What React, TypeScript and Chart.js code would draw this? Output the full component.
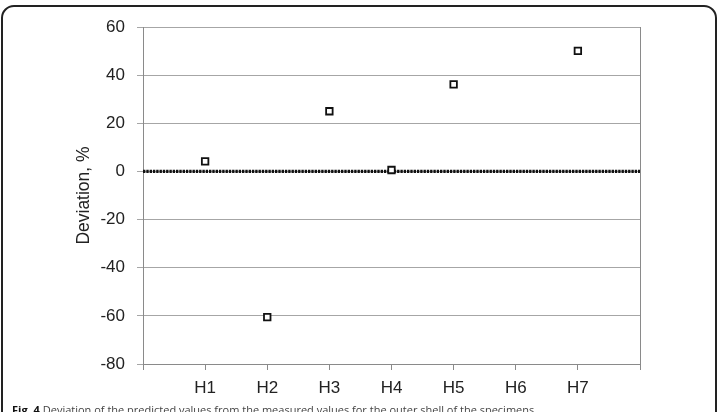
import React, { useEffect, useRef } from "react";
import { Chart, registerables } from "chart.js";

Chart.register(...registerables);

const categories = ["H1", "H2", "H3", "H4", "H5", "H6", "H7"];
const deviations: (number | null)[] = [4.2, -60.5, 25, 0.6, 36.2, null, 50.1];
const yTicks = { min: -80, max: 60, step: 20 };
const referenceLine = [0, 0];
const caption = "Deviation of the predicted values from the measured values for the outer shell of the specimens";

const rightBorder = {
  id: "rightBorder",
  afterDraw(chart: any) {
    const { ctx, chartArea } = chart;
    ctx.save();
    ctx.strokeStyle = "#8a8a8a";
    ctx.lineWidth = 1;
    ctx.beginPath();
    ctx.moveTo(Math.round(chartArea.right) + 0.5, chartArea.top);
    ctx.lineTo(Math.round(chartArea.right) + 0.5, chartArea.bottom);
    ctx.stroke();
    ctx.restore();
  },
};

export default function App() {
  const ref = useRef<HTMLCanvasElement>(null);
  useEffect(() => {
    if (!ref.current) return;
    const n = categories.length + 1;
    const points = deviations
      .map((v, i) => (v === null ? null : { x: i + 1, y: v }))
      .filter((p) => p !== null);
    const chart = new Chart(ref.current, {
      type: "scatter",
      data: {
        datasets: [
          {
            type: "line",
            data: referenceLine.map((v, i) => ({ x: i * n, y: v })),
            borderColor: "#111",
            borderWidth: 3.2,
            borderDash: [2.4, 0.9],
            pointRadius: 0,
            order: 2,
          } as any,
          {
            data: points as any,
            pointStyle: "rect",
            pointRadius: 4.6,
            pointBorderWidth: 1.8,
            pointBorderColor: "#111",
            pointBackgroundColor: "#fff",
            order: 1,
          },
        ],
      },
      plugins: [rightBorder],
      options: {
        animation: false,
        responsive: false,
        maintainAspectRatio: false,
        layout: { padding: { left: 0, right: 79, top: 27, bottom: 0 } },
        plugins: { legend: { display: false }, tooltip: { enabled: false } },
        scales: {
          x: {
            type: "linear",
            min: 0,
            max: n,
            afterFit: (s: any) => {
              s.height = 48;
            },
            ticks: {
              stepSize: 1,
              autoSkip: false,
              padding: 8,
              color: "#222",
              font: { family: "Liberation Sans, Arial, sans-serif", size: 17 },
              callback: (v: any) => (v >= 1 && v <= categories.length ? categories[v - 1] : ""),
            },
            grid: { drawOnChartArea: false, tickLength: 6, color: "#8a8a8a" },
            border: { color: "#8a8a8a", width: 1 },
          },
          y: {
            min: yTicks.min,
            max: yTicks.max,
            afterFit: (s: any) => {
              s.width = 143;
            },
            ticks: {
              stepSize: yTicks.step,
              padding: 12,
              color: "#222",
              font: { family: "Liberation Sans, Arial, sans-serif", size: 17 },
            },
            grid: { color: "#a6a6a6", tickLength: 6, lineWidth: 1 },
            border: { color: "#8a8a8a", width: 1 },
            title: {
              display: true,
              text: "Deviation, %",
              color: "#222",
              font: { family: "Liberation Sans, Arial, sans-serif", size: 17.5 },
              padding: { top: 74, bottom: 0 },
            },
          },
        },
      },
    });
    return () => chart.destroy();
  }, []);

  return (
    <div
      style={{
        position: "fixed",
        left: 0,
        top: 0,
        width: 719,
        height: 412,
        overflow: "hidden",
        background: "#fff",
      }}
    >
      <div
        style={{
          position: "absolute",
          left: 1,
          top: 5,
          width: 712,
          height: 430,
          border: "2px solid #222",
          borderRadius: 13,
        }}
      />
      <canvas ref={ref} width={719} height={412} style={{ position: "absolute", left: 0, top: 0 }} />
      <div
        style={{
          position: "absolute",
          left: 12,
          top: 403,
          fontFamily: "Open Sans, Liberation Sans, sans-serif",
          fontSize: 11,
          lineHeight: "14px",
          color: "#444",
          whiteSpace: "nowrap",
        }}
      >
        <b style={{ color: "#111" }}>Fig. 4</b> {caption}
      </div>
    </div>
  );
}
